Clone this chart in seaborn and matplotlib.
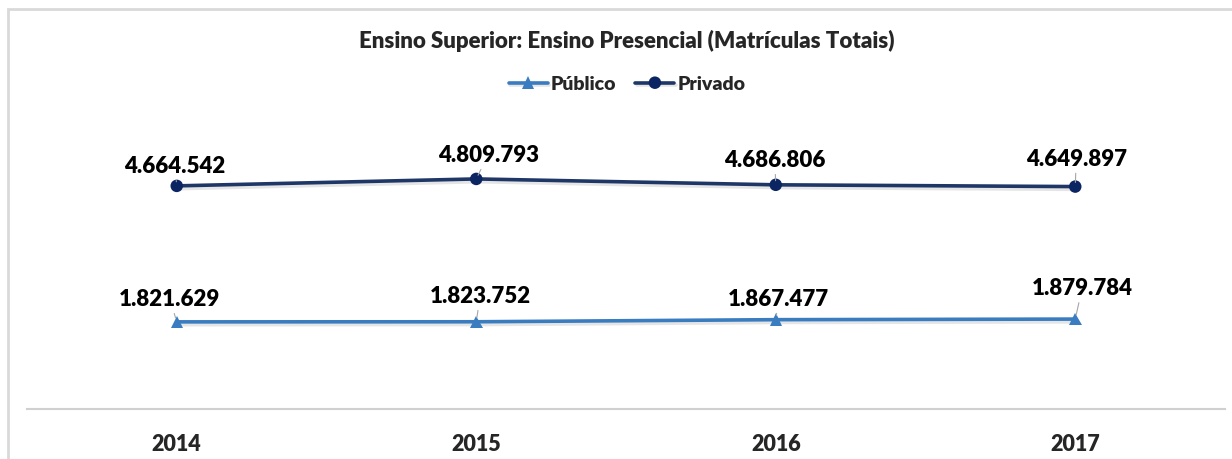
import matplotlib
matplotlib.use('Agg')
import matplotlib.pyplot as plt
import matplotlib.patheffects as pe
import pandas as pd
import seaborn as sns

# Data
anos = ['2014', '2015', '2016', '2017']
publico = [1821629, 1823752, 1867477, 1879784]
privado = [4664542, 4809793, 4686806, 4649897]

# label offsets in pixels (labels were moved by hand in the original)
off_publico = [(-7, 17), (4, 20), (3, 15), (7, 25)]
off_privado = [(-2, 14), (12, 18), (-1, 19), (1, 22)]

df = pd.DataFrame({'Ano': anos * 2,
                   'Matriculas': publico + privado,
                   'Rede': ['Público'] * 4 + ['Privado'] * 4})

sns.set_style('white')
plt.rcParams['font.family'] = ['Lato', 'DejaVu Sans']
peso = 'heavy'

fig = plt.figure(figsize=(12.32, 4.6), dpi=100)
ax = fig.add_axes([27 / 1232, 50 / 460, 1198 / 1232, 287 / 460])

cores = {'Público': '#3a7cc0', 'Privado': '#1f3767'}
sns.lineplot(data=df, x='Ano', y='Matriculas', hue='Rede', style='Rede',
             markers={'Público': '^', 'Privado': 'o'}, dashes=False,
             palette=cores, linewidth=2.6, markersize=9, ax=ax, sort=False)

sombra = [pe.SimpleLineShadow(offset=(1.2, -2), alpha=0.15, shadow_color='#555555'), pe.Normal()]
for line in ax.lines:
    line.set_path_effects(sombra)
    line.set_markeredgewidth(0)
    if line.get_marker() == 'o':
        line.set_markerfacecolor('#0b2462')
    elif line.get_marker() == '^':
        line.set_markerfacecolor('#3a7cc0')

def fmt(v):
    return f'{v:,}'.replace(',', '.')

for serie, offs in ((publico, off_publico), (privado, off_privado)):
    for i, v in enumerate(serie):
        ax.annotate(fmt(v), xy=(i, v), xytext=offs[i], textcoords='offset pixels',
                    ha='center', va='baseline', fontsize=16, fontweight=peso, color='black',
                    arrowprops=dict(arrowstyle='-', color='#a6a6a6', lw=0.8, shrinkA=1, shrinkB=3))

ax.set_xlim(-0.5, 3.5)
ax.set_ylim(0, 6000000)
ax.set_yticks([])
ax.set_xlabel('')
ax.set_ylabel('')
for s in ['top', 'right', 'left']:
    ax.spines[s].set_visible(False)
ax.spines['bottom'].set_color('#d0d0d0')
ax.spines['bottom'].set_linewidth(1.5)
ax.tick_params(axis='x', length=0, pad=17, labelsize=15.5)
for t in ax.get_xticklabels():
    t.set_fontweight(peso)

leg = ax.legend(loc='center', bbox_to_anchor=(627 / 1232, 1 - 85 / 460), bbox_transform=fig.transFigure,
                ncol=2, frameon=False, fontsize=14, handlelength=2.0, columnspacing=1.0,
                handletextpad=0.15, borderpad=0)
for t in leg.get_texts():
    t.set_fontweight(peso)

fig.text(627 / 1232, 1 - 41 / 460, 'Ensino Superior: Ensino Presencial (Matrículas Totais)',
         ha='center', va='center', fontsize=16, fontweight=peso)

# light frame around the chart
fig.patches.append(plt.Rectangle((8 / 1232, -0.1), 1.1, 1 - 10 / 460 + 0.1, transform=fig.transFigure,
                                 fill=False, edgecolor='#d9d9d9', linewidth=2))

fig.savefig('out.png', dpi=100)
